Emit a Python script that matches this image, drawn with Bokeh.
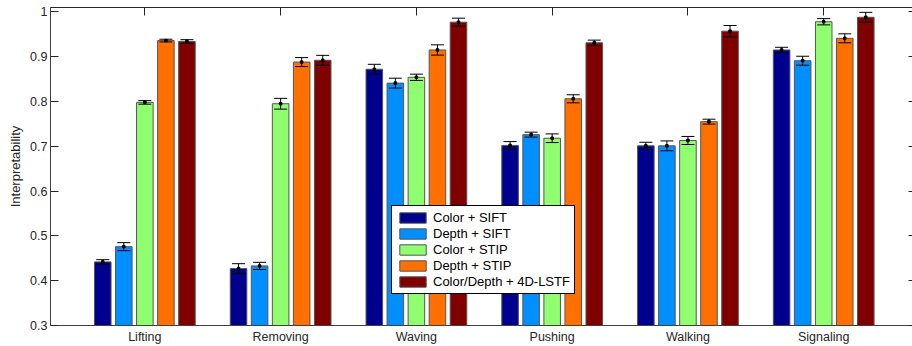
from bokeh.plotting import figure
from bokeh.models import (ColumnDataSource, Range1d, LinearAxis, FixedTicker, Whisker,
                          TeeHead, Legend, LegendItem)
from bokeh.embed import file_html
from bokeh.resources import INLINE

categories = ["Lifting", "Removing", "Waving", "Pushing", "Walking", "Signaling"]
series_names = ["Color + SIFT", "Depth + SIFT", "Color + STIP", "Depth + STIP", "Color/Depth + 4D-LSTF"]
colors = ["#00008F", "#008FFF", "#8FFF70", "#FF7000", "#800000"]

color_sift = [0.442, 0.427, 0.872, 0.702, 0.701, 0.915]
depth_sift = [0.476, 0.433, 0.841, 0.726, 0.701, 0.891]
color_stip = [0.798, 0.795, 0.854, 0.718, 0.713, 0.978]
depth_stip = [0.936, 0.888, 0.915, 0.806, 0.755, 0.941]
color_depth_lstf = [0.934, 0.892, 0.977, 0.931, 0.957, 0.988]

color_sift_err = [0.005, 0.011, 0.011, 0.0085, 0.008, 0.006]
depth_sift_err = [0.009, 0.008, 0.011, 0.0055, 0.011, 0.010]
color_stip_err = [0.004, 0.012, 0.007, 0.0097, 0.009, 0.007]
depth_stip_err = [0.003, 0.010, 0.0115, 0.009, 0.0055, 0.010]
color_depth_lstf_err = [0.004, 0.011, 0.009, 0.006, 0.0126, 0.011]

y_ticks = [0.3, 0.4, 0.5, 0.6, 0.7, 0.8, 0.9, 1.0]
y_tick_labels = ["0.3", "0.4", "0.5", "0.6", "0.7", "0.8", "0.9", "1"]

values = [color_sift, depth_sift, color_stip, depth_stip, color_depth_lstf]
errors = [color_sift_err, depth_sift_err, color_stip_err, depth_stip_err, color_depth_lstf_err]

positions = [i + 1 for i in range(len(categories))]
offsets = [-0.31, -0.155, 0.0, 0.155, 0.31]
bar_w = 0.122

FONT = "Liberation Sans"
TXT = "#262626"

p = figure(width=912, height=346, output_backend="svg", toolbar_location=None,
           x_range=Range1d(0.305, 6.654), y_range=Range1d(0.3, 1.0098),
           min_border_left=50, min_border_right=0, min_border_top=7, min_border_bottom=20,
           background_fill_color="white", border_fill_color="white")
p.outline_line_color = None
p.xgrid.visible = False
p.ygrid.visible = False

items = []
for k in range(len(series_names)):
    xs = [pos + offsets[k] for pos in positions]
    src = ColumnDataSource(dict(
        x=xs, top=values[k],
        upper=[v + e for v, e in zip(values[k], errors[k])],
        lower=[v - e for v, e in zip(values[k], errors[k])],
    ))
    r = p.vbar(x="x", top="top", bottom=0.3, width=bar_w, source=src,
               fill_color=colors[k], line_color="#555555", line_width=1)
    w = Whisker(source=src, base="x", upper="upper", lower="lower", dimension="height",
                line_color="black", line_width=1, level="annotation",
                upper_head=TeeHead(size=13, line_color="black", line_width=1),
                lower_head=TeeHead(size=13, line_color="black", line_width=1))
    p.add_layout(w)
    p.scatter(x="x", y="top", source=src, marker="square", size=2.5,
              fill_color="black", line_color="black")
    items.append(LegendItem(label=series_names[k], renderers=[r]))

# Bottom axis
xa = p.xaxis[0]
xa.ticker = FixedTicker(ticks=positions)
xa.major_label_overrides = {pos: c for pos, c in zip(positions, categories)}
xa.major_tick_in = 0
xa.major_tick_out = 0
xa.minor_tick_line_color = None
xa.axis_line_color = "#404040"
xa.major_label_text_font = FONT
xa.major_label_text_font_size = "12.5px"
xa.major_label_text_color = TXT
xa.major_label_standoff = 4

# Left axis
ya = p.yaxis[0]
ya.ticker = FixedTicker(ticks=y_ticks)
ya.major_label_overrides = {t: l for t, l in zip(y_ticks, y_tick_labels)}
ya.major_tick_in = 8
ya.major_tick_out = 0
ya.major_tick_line_color = "#262626"
ya.minor_tick_line_color = None
ya.axis_line_color = "#404040"
ya.major_label_text_font = FONT
ya.major_label_text_font_size = "12.5px"
ya.major_label_text_color = TXT
ya.major_label_standoff = 3
ya.axis_label = "Interpretability"
ya.axis_label_text_font = FONT
ya.axis_label_text_font_size = "13px"
ya.axis_label_text_font_style = "normal"
ya.axis_label_text_color = TXT
ya.axis_label_standoff = 4

# Top axis (ticks only, drawn as minor ticks so no labels exist)
top_axis = LinearAxis(ticker=FixedTicker(ticks=[], minor_ticks=positions),
                      major_label_standoff=0, major_tick_in=0, major_tick_out=0,
                      minor_tick_in=8, minor_tick_out=0,
                      minor_tick_line_color="#262626", axis_line_color="#262626")
p.add_layout(top_axis, "above")

# Right axis (ticks only, axis line falls outside the window)
right_axis = LinearAxis(ticker=FixedTicker(ticks=[], minor_ticks=y_ticks),
                        major_label_standoff=0, major_tick_in=0, major_tick_out=0,
                        minor_tick_in=4, minor_tick_out=0,
                        minor_tick_line_color="#262626", axis_line_color=None)
p.add_layout(right_axis, "right")

legend = Legend(items=items, location=(341, 31), orientation="vertical",
                glyph_width=33, glyph_height=13, label_height=13, label_width=20,
                spacing=1, padding=4, label_standoff=4,
                label_text_font=FONT, label_text_font_size="13px", label_text_color="black",
                border_line_color="black", border_line_width=1, border_line_alpha=1,
                background_fill_color="white", background_fill_alpha=1, margin=0)
p.add_layout(legend)

open("out.html", "w").write(file_html(p, INLINE))
